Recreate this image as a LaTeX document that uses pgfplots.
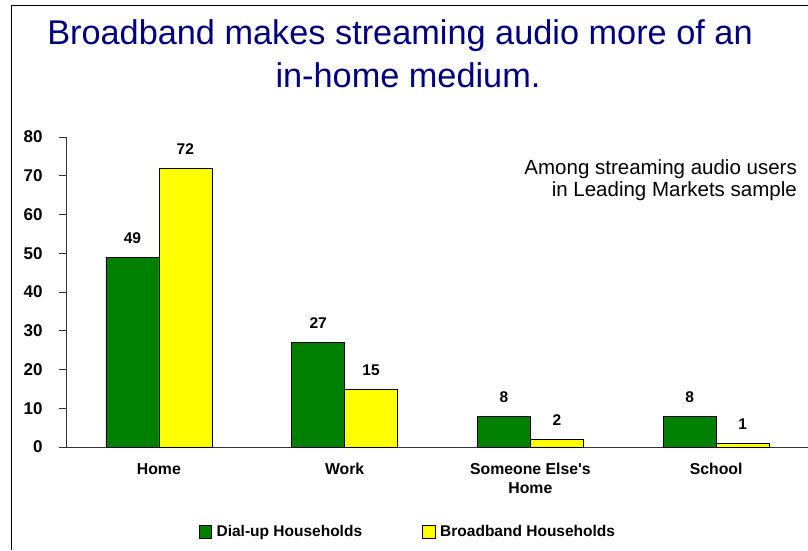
\documentclass[border=0pt]{standalone}
\usepackage{fontspec}
\setmainfont{Liberation Sans}
\usepackage{pgfplots}
\pgfplotsset{compat=1.18}
\definecolor{xlgreen}{HTML}{008000}
\definecolor{xlyellow}{HTML}{FFFF00}
\definecolor{titleblue}{HTML}{000080}
\begin{document}
\begin{tikzpicture}[x=1pt,y=1pt]
\useasboundingbox (0,0) rectangle (808,550);
\draw[line width=1pt] (11,0) -- (11,544) -- (808,544);
\node[anchor=base, font=\fontsize{34.3}{40}\selectfont, text=titleblue] at (400,505) {Broadband makes streaming audio more of an};
\node[anchor=base, font=\fontsize{34.3}{40}\selectfont, text=titleblue] at (408,462.5) {in-home medium.};
\node[anchor=base east, inner sep=0pt, font=\fontsize{20.5}{24}\selectfont] at (797,376) {Among streaming audio users};
\node[anchor=base east, inner sep=0pt, font=\fontsize{20.5}{24}\selectfont] at (797,353.5) {in Leading Markets sample};
\begin{axis}[
  at={(66pt,103pt)}, anchor=south west,
  scale only axis, width=743pt, height=310pt,
  /pgf/number format/assume math mode=true,
  xmin=-0.5, xmax=3.5, ymin=0, ymax=80,
  axis x line=bottom, axis y line=left,
  axis line style={-, line width=0.8pt, black!80},
  ytick={0,10,...,80},
  ytick align=outside,
  major tick length=7pt,
  tick style={line width=0.8pt, black!80},
  xtick={0,1,2,3},
  xticklabels={Home, Work, {Someone Else\textquotesingle s\\Home}, School},
  x tick style={draw=none},
  extra x ticks={-0.5,0.5,1.5,2.5},
  extra x tick labels={},
  extra x tick style={tick align=outside, major tick length=5pt, tick style={draw=black!80, line width=0.8pt}},
  yticklabel style={font=\bfseries\fontsize{17}{20}\selectfont, xshift=-13pt},
  xticklabel style={font=\bfseries\fontsize{15.8}{19}\selectfont, align=center, yshift=-6pt},
  ybar, bar width=0.285,
  nodes near coords,
  nodes near coords style={font=\bfseries\fontsize{15.5}{18}\selectfont, text=black, anchor=south, yshift=10pt},
  legend columns=2,
  legend style={at={(0.46,-0.274)}, anchor=center, draw=none, fill=none,
    font=\bfseries\fontsize{15.5}{18}\selectfont,
    /tikz/every odd column/.append style={column sep=3pt},
    /tikz/every even column/.append style={column sep=58pt}},
  legend image code/.code={\draw[#1, draw=black, line width=0.6pt] (0pt,-6pt) rectangle (12.5pt,6.5pt);},
]
\addplot[fill=xlgreen, draw=black, line width=0.6pt, bar shift=-0.1425] coordinates {(0,49) (1,27) (2,8) (3,8)};
\addplot[fill=xlyellow, draw=black, line width=0.6pt, bar shift=0.1425] coordinates {(0,72) (1,15) (2,2) (3,1)};
\legend{Dial-up Households, Broadband Households}
\end{axis}
\end{tikzpicture}
\end{document}
